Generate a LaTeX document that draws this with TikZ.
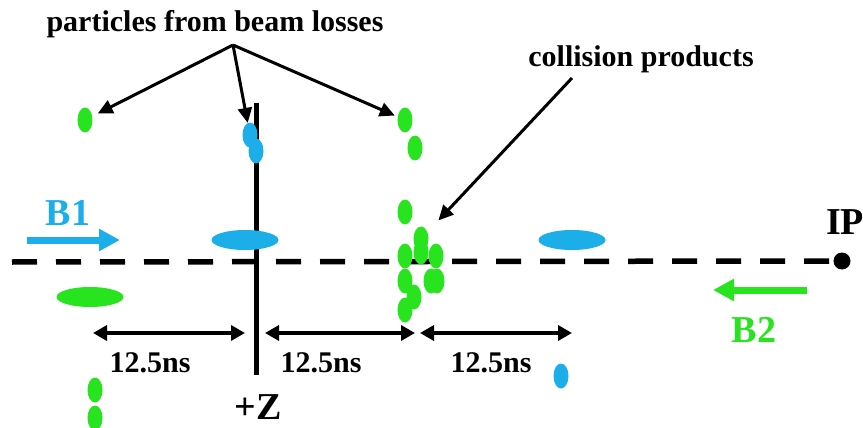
\documentclass[tikz,border=0pt]{standalone}
\usepackage{fontspec}
\setmainfont{Liberation Serif}
\usetikzlibrary{arrows.meta,shapes.geometric}
\definecolor{bblue}{RGB}{28,174,232}
\definecolor{bgreen}{RGB}{40,228,30}
\tikzset{
  lbl/.style={font=\fontsize{30}{35}\selectfont\bfseries, inner sep=0pt},
  big/.style={font=\fontsize{38}{43}\selectfont\bfseries, inner sep=0pt},
  dotshape/.style={ellipse, inner sep=0pt, draw=none, minimum width=15pt, minimum height=25pt},
  gdot/.style={dotshape, fill=bgreen},
  bdot/.style={dotshape, fill=bblue},
  gbunch/.style={ellipse, inner sep=0pt, fill=bgreen, minimum width=67pt, minimum height=20pt},
  bbunch/.style={ellipse, inner sep=0pt, fill=bblue, minimum width=67pt, minimum height=20pt},
  pointer/.style={line width=3pt, -{Triangle[length=15pt,width=14pt]}},
  span/.style={line width=3.4pt, {Triangle[length=14pt,width=15pt]}-{Triangle[length=14pt,width=15pt]}},
  beamarrow/.style={line width=7pt, -{Triangle[length=21pt,width=21pt]}},
}
\begin{document}
\begin{tikzpicture}[x=1pt,y=-1pt]
\useasboundingbox (0,0) rectangle (863,428);
% axis
\node[circle, fill=black, inner sep=0pt, minimum size=17pt] (ip) at (842,261) {};
\coordinate (axstart) at (12,262);
\draw[line width=5.5pt, dash pattern=on 25pt off 19pt] (axstart) -- (ip.center);
\coordinate (ztop) at (256,103);
\coordinate (zbot) at (256,375);
\draw[line width=5pt] (ztop) -- (zbot);
% labels
\node[lbl] (title) at (215,24) {particles from beam losses};
\node[lbl] (coll) at (641,59) {collision products};
\node[big] (iplbl) at (845,222) {IP};
\node[big, text=bblue] (b1) at (68,213) {B1};
\node[big, text=bgreen] (b2) at (754,330) {B2};
\node[big] (z) at (258,407) {+Z};
\node[lbl] (t1) at (150,363) {12.5ns};
\node[lbl] (t2) at (321,363) {12.5ns};
\node[lbl] (t3) at (491,363) {12.5ns};
% bunches
\node[bbunch] (bb1) at (245,240) {};
\node[bbunch] (bb2) at (572,240) {};
\node[gbunch] (gb1) at (90,297) {};
% loss particles
\node[gdot] (g1) at (85,120) {};
\node[bdot] (bl1) at (250,135) {};
\node[bdot] (bl2) at (256,151) {};
\node[gdot] (g2) at (405,120) {};
\node[gdot] (g3) at (415,148) {};
\node[gdot] (g4) at (95,390) {};
\node[gdot] (g5) at (95,418) {};
\node[bdot] (bl3) at (561,376) {};
% collision products
\node[gdot] (c1) at (405,212) {};
\node[gdot] (c2) at (421,239) {};
\node[gdot] (c3) at (421,252) {};
\node[gdot] (c4) at (405,256) {};
\node[gdot] (c5) at (436,256) {};
\node[gdot] (c6) at (405,281) {};
\node[gdot] (c7) at (431,281) {};
\node[gdot] (c8) at (437,281) {};
\node[gdot] (c9) at (414,297) {};
\node[gdot] (c10) at (405,310) {};
% pointers
\coordinate (src) at (233,45);
\draw[pointer, shorten >=6pt] (src) -- (g1);
\draw[pointer, shorten >=0pt] (src) -- (bl1);
\draw[pointer, shorten >=3pt] (src) -- (g2);
\coordinate (csrc) at (572,78);
\draw[pointer, shorten >=16pt] (csrc) -- (c2);
% spans
\coordinate (s1a) at (93,333);
\coordinate (s1b) at (245,333);
\coordinate (s2a) at (265,333);
\coordinate (s2b) at (415,333);
\coordinate (s3a) at (420,333);
\coordinate (s3b) at (572,333);
\draw[span] (s1a) -- (s1b);
\draw[span] (s2a) -- (s2b);
\draw[span] (s3a) -- (s3b);
% beam arrows
\coordinate (b1a) at (27,240);
\coordinate (b1b) at (120,240);
\draw[beamarrow, draw=bblue, fill=bblue] (b1a) -- (b1b);
\coordinate (b2a) at (807,290);
\coordinate (b2b) at (713,290);
\draw[beamarrow, draw=bgreen, fill=bgreen] (b2a) -- (b2b);
\end{tikzpicture}
\end{document}
